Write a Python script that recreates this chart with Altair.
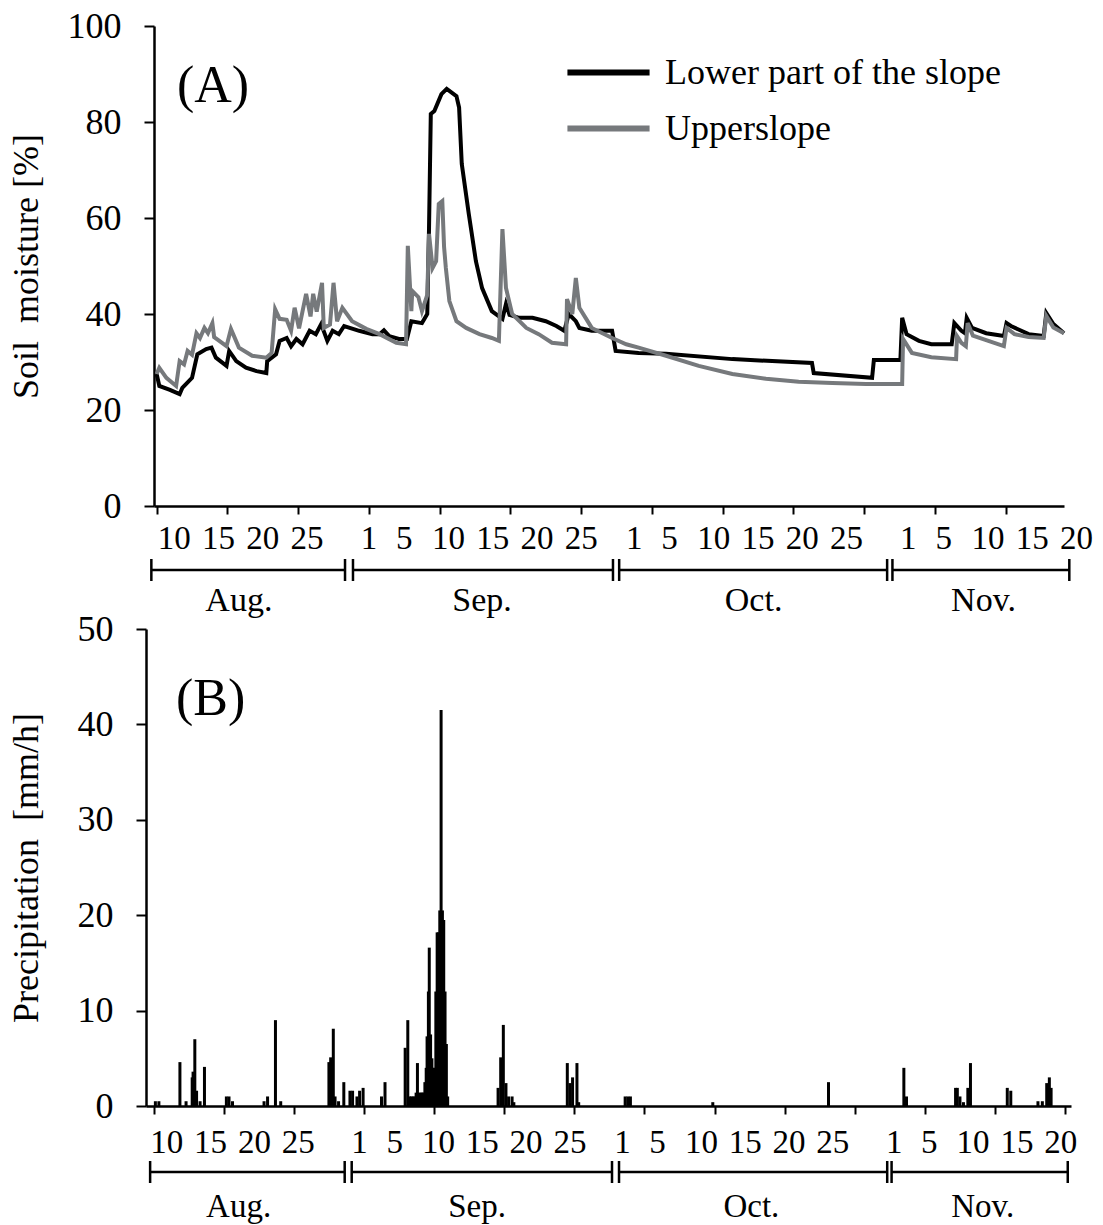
import altair as alt
import pandas as pd

FONT = "Liberation Serif"
GREY = "#76797c"

# Day index: Aug 1 = 1, Sep 1 = 32, Oct 1 = 62, Nov 1 = 93
# ---------------- Panel A: soil moisture [%] ----------------
lower_day = [8.0, 8.3, 9.5, 10.6, 10.9, 12.0, 12.6, 13.6, 14.2, 14.7, 15.9, 16.2, 17.0, 18.1, 19.3,
             20.4, 20.5, 21.5, 21.9, 22.7, 23.2, 23.8, 24.5, 25.3, 26.0, 26.6, 27.3, 27.9, 28.6,
             29.2, 30.9, 32.4, 33.2, 33.7, 34.3, 35.4, 36.3, 36.8, 38.0, 38.6, 38.8, 39.0, 39.4,
             40.2, 40.8, 41.9, 42.2, 42.5, 43.3, 44.1, 44.8, 45.9, 47.1, 47.5, 47.9, 49.0, 50.5,
             52.0, 53.2, 54.1, 54.6, 55.4, 55.8, 57.2, 59.5, 59.9, 62.5, 65.6, 73.1, 82.1, 82.3,
             88.9, 89.1, 92.1, 92.3, 92.8, 94.2, 95.6, 97.9, 98.2, 99.0, 99.4, 99.6, 100.2, 101.8,
             103.8, 104.1, 104.6, 106.6, 108.3, 108.6, 109.4, 110.6]
lower_val = [27.5, 25.0, 24.2, 23.3, 24.6, 26.7, 31.6, 32.7, 33.0, 30.9, 29.2, 32.3, 30.2, 28.8, 28.1,
             27.7, 30.2, 31.6, 34.4, 35.0, 33.3, 34.8, 33.7, 36.5, 35.8, 37.9, 34.4, 36.5, 35.8,
             37.5, 36.5, 35.8, 35.8, 36.6, 35.4, 34.8, 34.8, 38.5, 38.1, 40.0, 57.9, 81.7, 82.3,
             85.8, 86.9, 85.4, 83.0, 71.3, 60.8, 51.0, 45.4, 40.6, 39.0, 42.1, 39.8, 39.2, 39.2,
             38.5, 37.5, 36.5, 40.0, 38.5, 37.1, 36.5, 36.5, 32.3, 31.9, 31.7, 30.6, 29.8, 27.7,
             26.7, 30.4, 30.4, 39.2, 35.8, 34.4, 33.7, 33.7, 38.1, 36.5, 36.0, 39.2, 37.1, 36.0,
             35.4, 38.1, 37.5, 35.8, 35.4, 40.2, 37.9, 36.0]

upper_day = [8.0, 8.3, 9.1, 10.2, 10.6, 11.1, 11.5, 12.0, 12.5, 12.9, 13.4, 13.8, 14.3, 14.5, 15.9,
             16.4, 17.3, 18.8, 20.4, 21.0, 21.4, 21.9, 22.7, 23.2, 23.6, 24.1, 24.9, 25.4, 25.7,
             26.1, 26.7, 26.9, 27.6, 28.0, 28.4, 29.0, 30.1, 31.7, 33.2, 35.1, 36.2, 36.4, 36.8,
             36.9, 37.6, 38.0, 38.6, 38.8, 39.2, 39.6, 39.9, 40.3, 40.5, 40.7, 41.1, 41.9, 43.0,
             44.5, 45.9, 46.7, 47.1, 47.5, 48.2, 49.8, 51.2, 52.7, 54.3, 54.4, 55.0, 55.4, 55.8,
             57.2, 59.5, 61.1, 62.5, 65.6, 69.3, 73.1, 76.9, 80.6, 84.4, 88.2, 92.3, 92.4, 93.4,
             95.6, 98.4, 98.5, 99.0, 99.5, 99.7, 100.3, 103.8, 104.1, 105.0, 106.6, 108.3, 108.6,
             109.4, 110.6]
upper_val = [27.5, 28.8, 26.7, 25.0, 30.2, 29.5, 32.3, 31.5, 36.0, 35.0, 37.1, 36.0, 38.1, 35.2, 33.3,
             36.9, 33.0, 31.3, 30.9, 31.9, 41.0, 39.0, 38.8, 36.5, 41.3, 37.0, 44.2, 39.5, 44.2,
             40.5, 46.5, 37.1, 37.8, 46.5, 38.5, 41.3, 38.5, 36.9, 35.8, 34.0, 33.7, 54.2, 40.6,
             44.8, 43.5, 40.6, 44.0, 56.7, 49.6, 51.0, 62.9, 63.5, 54.0, 49.6, 42.7, 38.5, 37.1,
             35.8, 35.0, 34.4, 57.7, 45.4, 40.0, 37.1, 35.8, 34.0, 33.7, 43.1, 40.0, 47.5, 41.3,
             37.1, 35.0, 33.7, 33.0, 31.3, 29.2, 27.5, 26.5, 25.9, 25.6, 25.4, 25.4, 34.8, 31.9,
             31.0, 30.6, 35.4, 34.0, 33.3, 38.1, 35.5, 33.3, 37.1, 35.8, 35.2, 35.0, 39.6,
             37.2, 36.0]

series_names = ["Lower part of the slope", "Upperslope"]

# ---------------- Panel B: precipitation [mm/h] ----------------
rain_day = [8.7, 9.1, 11.5, 12.2, 12.9, 13.0, 13.2, 13.4, 13.8, 14.3, 16.8, 17.1, 17.5, 21.1, 21.5,
            22.4, 23.0, 28.5, 28.7, 29.0, 29.2, 29.6, 30.2, 30.9, 31.2, 31.7, 32.0, 32.4, 34.5, 34.9,
            37.2, 37.5, 37.7, 37.9, 38.1, 38.3, 38.45, 38.6, 38.8, 39.0, 39.15, 39.3, 39.45, 39.6,
            39.7, 39.85, 39.95, 40.1, 40.25, 40.4, 40.55, 40.7, 40.85, 41.0, 41.15, 41.3, 41.45,
            41.6, 41.75, 41.9, 42.05, 47.8, 48.1, 48.4, 48.7, 49.0, 49.4, 49.6, 55.7, 56.0, 56.3,
            56.8, 57.0, 62.3, 62.6, 62.9, 72.3, 85.5, 94.1, 94.4, 100.0, 100.2, 100.5, 100.9,
            101.4, 101.7, 105.9, 106.3, 109.4, 109.9, 110.4, 110.7, 110.9]
rain_mm = [0.5, 0.5, 4.6, 0.5, 3.0, 3.6, 7.0, 1.6, 0.5, 4.1, 1.0, 1.0, 0.5, 0.5, 1.0,
           9.0, 0.5, 4.6, 5.1, 8.1, 1.0, 0.5, 2.5, 1.6, 1.6, 1.0, 1.6, 1.9, 1.0, 2.5,
           6.1, 9.0, 1.0, 1.0, 1.0, 1.0, 1.4, 4.5, 1.4, 1.4, 1.4, 1.4, 2.5, 4.0,
           7.3, 12.0, 16.6, 7.5, 5.0, 4.0, 4.0, 12.0, 18.2, 18.2, 20.5, 41.5, 20.5,
           19.5, 12.0, 6.5, 1.0, 1.9, 5.1, 8.5, 2.4, 1.0, 1.0, 0.4, 4.5, 2.4, 3.0,
           4.5, 0.4, 1.0, 1.0, 1.0, 0.4, 2.5, 4.0, 1.0, 1.9, 1.9, 1.0, 0.4,
           1.9, 4.5, 1.9, 1.6, 0.5, 0.5, 2.4, 3.0, 1.9]

# ---------------- x-axis day labels and month brackets ----------------
day_label_pos = [10, 15, 20, 25, 32, 36, 41, 46, 51, 56, 62, 66, 71, 76, 81, 86, 93, 97, 102, 107, 112]
day_label_text = ["10", "15", "20", "25", "1", "5", "10", "15", "20", "25",
                  "1", "5", "10", "15", "20", "25", "1", "5", "10", "15", "20"]
month_names = ["Aug.", "Sep.", "Oct.", "Nov."]
month_start_a = [7.4, 30.2, 60.3, 91.2]
month_end_a = [29.3, 59.6, 90.6, 111.2]
month_mid_a = [17.3, 44.8, 75.5, 101.5]
month_start_b = [8.1, 31.1, 61.6, 92.7]
month_end_b = [30.3, 60.8, 92.2, 112.8]
month_mid_b = [18.2, 45.4, 76.7, 103.1]

# ---------------- build tables ----------------
soil_df = pd.concat([
    pd.DataFrame({"day": lower_day, "value": lower_val, "series": series_names[0]}),
    pd.DataFrame({"day": upper_day, "value": upper_val, "series": series_names[1]}),
])
rain_df = pd.DataFrame({"day": rain_day, "mm": rain_mm})
labels_df = pd.DataFrame({"pos": day_label_pos, "label": day_label_text})


def time_axis_layers(xscale, H, lab_dy, br_dy, name_dy, name_size, starts, ends, mids):
    span = pd.DataFrame({"start": starts, "end": ends})
    ends_df = pd.DataFrame({"pos": starts + ends})
    names = pd.DataFrame({"pos": mids, "name": month_names})
    day_text = alt.Chart(labels_df).mark_text(font=FONT, fontSize=33, color="black", baseline="middle").encode(
        x=alt.X("pos:Q", scale=xscale), y=alt.value(H + lab_dy), text="label:N")
    hline = alt.Chart(span).mark_rule(color="black", strokeWidth=2.5).encode(
        x=alt.X("start:Q", scale=xscale), x2="end:Q", y=alt.value(H + br_dy))
    vticks = alt.Chart(ends_df).mark_rule(color="black", strokeWidth=2.5).encode(
        x=alt.X("pos:Q", scale=xscale), y=alt.value(H + br_dy - 11), y2=alt.value(H + br_dy + 11))
    mtext = alt.Chart(names).mark_text(font=FONT, fontSize=name_size, color="black", baseline="middle").encode(
        x=alt.X("pos:Q", scale=xscale), y=alt.value(H + name_dy), text="name:N")
    return [day_text, hline, vticks, mtext]


# ---------------- Panel A ----------------
# plot group is 8 px wider on the left; the axes start 8 px in
W1, H1 = 918, 480
xs_a = alt.Scale(domain=[7.7, 110.6], range=[8, 918], nice=False, zero=False)
x_axis_a = alt.Axis(values=list(range(8, 111, 2)), labels=False, title=None, tickSize=8,
                    tickWidth=2, domainWidth=2.5, grid=False)
y_axis_a = alt.Axis(values=[0, 20, 40, 60, 80, 100], title="Soil\u00a0 moisture [%]", grid=False,
                    offset=-8, tickSize=10, tickWidth=2, domainWidth=2.5, labelFontSize=36,
                    labelPadding=23, titleFontSize=36, titlePadding=22)

lines = alt.Chart(soil_df).mark_line(strokeWidth=4).encode(
    x=alt.X("day:Q", scale=xs_a, axis=x_axis_a),
    y=alt.Y("value:Q", scale=alt.Scale(domain=[0, 100], nice=False), axis=y_axis_a),
    color=alt.Color("series:N", sort=series_names,
                    scale=alt.Scale(domain=series_names, range=["#000000", GREY]),
                    legend=alt.Legend(title=None, orient="none", legendX=433, legendY=17,
                                      symbolType="M-1.55,0H1.55", symbolSize=2809,
                                      symbolStrokeWidth=6, labelFont=FONT, labelFontSize=36,
                                      labelLimit=600, labelOffset=27, rowPadding=8,
                                      labelColor="black")),
)
tag_a = alt.Chart(pd.DataFrame({"t": ["(A)"]})).mark_text(
    font=FONT, fontSize=52, align="left", baseline="middle", color="black").encode(
    text="t:N", x=alt.value(31), y=alt.value(60))

panel_a = alt.layer(lines, tag_a, *time_axis_layers(xs_a, H1, 33, 64, 95, 34,
                                                     month_start_a, month_end_a, month_mid_a)
                    ).properties(width=W1, height=H1)

# ---------------- Panel B ----------------
W2, H2 = 925, 477
xs_b = alt.Scale(domain=[8.2, 112.6], nice=False, zero=False)
x_axis_b = alt.Axis(values=[8.5 + 2 * k for k in range(53)], labels=False, title=None, tickSize=8,
                    tickWidth=2, domainWidth=2.5, grid=False)
y_axis_b = alt.Axis(values=[0, 10, 20, 30, 40, 50], title="Precipitation\u00a0 [mm/h]", grid=False,
                    tickSize=10, tickWidth=2, domainWidth=2.5, labelFontSize=36, labelPadding=23,
                    titleFontSize=36, titlePadding=32)

bars = alt.Chart(rain_df).mark_bar(size=3, color="black").encode(
    x=alt.X("day:Q", scale=xs_b, axis=x_axis_b),
    y=alt.Y("mm:Q", scale=alt.Scale(domain=[0, 50], nice=False), axis=y_axis_b),
)
tag_b = alt.Chart(pd.DataFrame({"t": ["(B)"]})).mark_text(
    font=FONT, fontSize=52, align="left", baseline="middle", color="black").encode(
    text="t:N", x=alt.value(30), y=alt.value(70))

panel_b = alt.layer(bars, tag_b, *time_axis_layers(xs_b, H2, 37, 66, 101, 33,
                                                   month_start_b, month_end_b, month_mid_b)
                    ).properties(width=W2, height=H2)

chart = alt.vconcat(panel_a, panel_b, spacing=-7).properties(
    padding={"left": 8, "top": 8, "right": 5, "bottom": 0}
).configure(font=FONT).configure_axis(
    labelFont=FONT, titleFont=FONT, titleFontWeight="normal", labelColor="black", titleColor="black",
    domainColor="black", tickColor="black"
).configure_view(stroke=None)

chart.save("out.html", embed_options={"renderer": "svg", "actions": False})
